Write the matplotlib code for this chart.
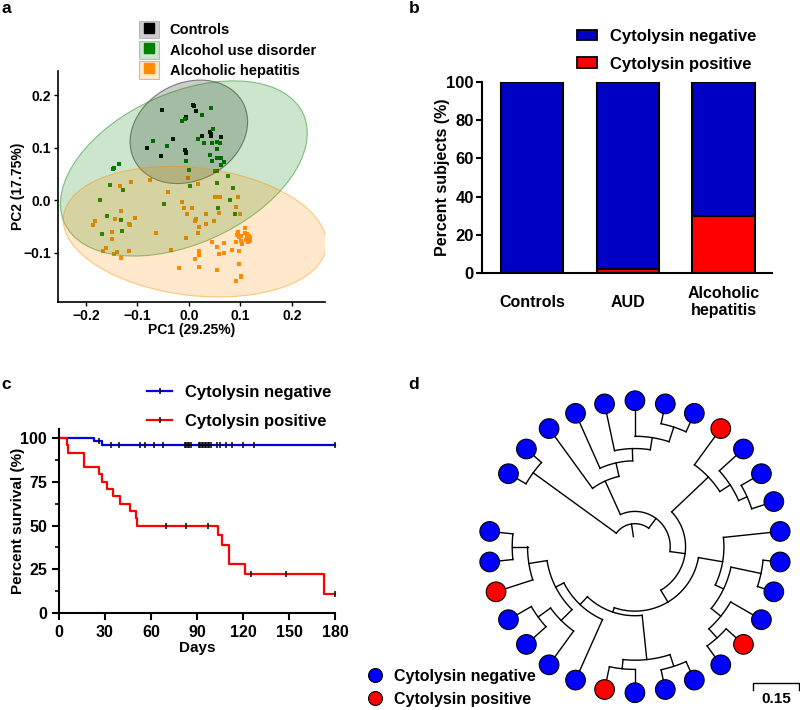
import numpy as np
import matplotlib
matplotlib.use("Agg")
import matplotlib.pyplot as plt
from matplotlib.patches import Ellipse, Patch
from matplotlib.lines import Line2D
from matplotlib.colors import to_rgba

plt.rcParams['font.family'] = ['Liberation Sans', 'DejaVu Sans']
plt.rcParams['font.weight'] = 'bold'
plt.rcParams['axes.labelweight'] = 'bold'

# ---------------- data ----------------
# a: PCA scores
ctrl_pc1 = [-0.052, 0.008, 0.010, 0.014, -0.005, -0.006, -0.031, -0.081, -0.054,
            -0.008, -0.006, -0.006, 0.026, 0.041, 0.042, 0.043, 0.063]
ctrl_pc2 = [0.171, 0.182, 0.179, 0.170, 0.158, 0.156, 0.116, 0.099, 0.084,
            0.095, 0.091, 0.090, 0.123, 0.130, 0.126, 0.122, 0.121]
aud_pc1 = [0.042, 0.026, -0.014, -0.007, -0.070, -0.043, 0.017, 0.030, 0.047, 0.045,
           0.054, 0.061, 0.055, 0.040, 0.044, 0.054, 0.062, 0.069, 0.063, -0.006,
           0.000, 0.050, 0.054, 0.076, 0.055, 0.085, 0.079, 0.057, 0.089, 0.003,
           -0.048, -0.147, -0.146, -0.136, -0.154, -0.128, -0.172, -0.158, -0.132,
           -0.130, -0.168]
aud_pc2 = [0.176, 0.162, 0.150, 0.154, 0.112, 0.103, 0.117, 0.109, 0.135, 0.109,
           0.110, 0.109, 0.098, 0.086, 0.075, 0.081, 0.080, 0.072, 0.067, 0.074,
           0.057, 0.055, 0.055, 0.046, 0.032, 0.024, 0.001, -0.015, -0.026, 0.027,
           -0.008, 0.059, 0.062, 0.068, 0.029, 0.020, 0.000, -0.030, -0.037,
           -0.058, -0.065]
ah_pc1 = [-0.075, -0.113, -0.133, -0.001, 0.017, -0.041, -0.013, -0.010, 0.006, -0.003,
          0.014, 0.011, 0.034, 0.048, 0.034, 0.058, 0.055, 0.051, 0.060, 0.095,
          0.091, 0.099, 0.019, 0.017, -0.006, -0.063, -0.104, -0.116, -0.114, -0.144,
          -0.149, -0.149, -0.182, -0.186, -0.131, -0.166, -0.161, -0.146, -0.139, -0.131,
          -0.117, -0.035, -0.019, 0.012, 0.020, 0.019, 0.019, 0.044, 0.055, 0.069,
          0.059, 0.055, 0.068, 0.083, 0.097, 0.097, 0.091, 0.096, 0.094, 0.097,
          0.101, 0.102, 0.103, 0.108, 0.109, 0.113, 0.115, 0.113, 0.117, 0.119,
          0.119, 0.114, 0.110, 0.092, 0.101, 0.102]
ah_pc2 = [0.039, 0.034, 0.027, 0.043, 0.030, 0.015, -0.003, -0.015, -0.015, -0.027,
          -0.036, -0.039, -0.027, -0.040, -0.046, -0.025, 0.006, 0.006, 0.006, 0.006,
          -0.013, -0.026, -0.051, -0.062, -0.072, -0.063, -0.034, -0.046, -0.048, -0.036,
          -0.061, -0.074, -0.039, -0.048, -0.020, -0.097, -0.092, -0.102, -0.099, -0.110,
          -0.097, -0.095, -0.130, -0.112, -0.105, -0.097, -0.128, -0.080, -0.090, -0.082,
          -0.103, -0.133, -0.101, -0.095, -0.097, -0.122, -0.080, -0.060, -0.067, -0.071,
          -0.069, -0.077, -0.083, -0.053, -0.062, -0.064, -0.070, -0.073, -0.069, -0.072,
          -0.077, -0.080, -0.075, -0.154, -0.144, -0.147]
pca_groups = ['Controls', 'Alcohol use disorder', 'Alcoholic hepatitis']

# b: cytolysin positive share per group (%)
b_groups = ['Controls', 'AUD', 'Alcoholic\nhepatitis']
b_positive = [0, 2, 30]
b_negative = [100 - p for p in b_positive]

# c: survival (days, 1 = death, 0 = censored)
neg_days = [23, 28, 26, 34, 39, 53, 56, 62, 68, 82, 83, 84, 84, 85, 86,
            91, 92, 93, 93, 94, 95, 95, 96, 97, 98, 98, 99,
            103, 105, 109, 113, 120, 127] + [180] * 20
neg_event = [1, 1] + [0] * 51
pos_days = [5, 6, 16, 16, 26, 28, 31, 35, 40, 46, 50, 51, 104, 106, 111, 111, 121, 173,
            70, 83, 97, 125, 148, 180]
pos_event = [1] * 18 + [0] * 6

# d: tree (newick, branch lengths) and cytolysin-positive isolates
newick = ("((s1:0.066,s2:0.066):0.335,((s3:0.241,(s4:0.196,(s5:0.156,(s6:0.116,"
          "(s7:0.066,s8:0.066):0.05):0.04):0.04):0.045):0.12,((s9:0.146,(s10:0.106,"
          "(s11:0.076,s12:0.076):0.03):0.04):0.165,((s13:0.186,((s14:0.056,s15:0.056):0.10,"
          "(s16:0.116,(s17:0.076,s18:0.076):0.04):0.04):0.03):0.08,(((s19:0.066,s20:0.066):0.04,"
          "(s21:0.076,s22:0.076):0.03):0.145,(s23:0.216,((s24:0.136,(s25:0.086,s26:0.086):0.05):0.05,"
          "(s27:0.126,(s28:0.076,s29:0.076):0.05):0.06):0.03):0.035):0.015):0.045):0.05):0.04):0.042;")
positive_tips = ['s9', 's17', 's22', 's27']
scale_len = 0.15

# ---------------- styles ----------------
BLUE_BAR = '#0000C4'
BLUE = '#0000E6'
RED = '#FF0000'
col_a = ['#000000', '#008000', '#FF8C00']

fig = plt.figure(figsize=(8, 7.1), dpi=100)


def fx(px):
    return px / 800


def fy(px):
    return 1 - px / 710


def style_spines(ax, lw):
    for s in ['top', 'right']:
        ax.spines[s].set_visible(False)
    for s in ['left', 'bottom']:
        ax.spines[s].set_linewidth(lw)


# ---------------- a ----------------
ax = fig.add_axes([fx(58), fy(302), fx(267), 231 / 710])
pts = [(ctrl_pc1, ctrl_pc2), (aud_pc1, aud_pc2), (ah_pc1, ah_pc2)]
for (xs, ys), c in zip(pts, col_a):
    ax.scatter(xs, ys, marker='s', s=9, color=c, linewidths=0, zorder=2)


def conf_ellipse(ax, xs, ys, color, alpha, level=0.97):
    X = np.column_stack([xs, ys])
    m = len(X) - 1
    vals, vecs = np.linalg.eigh(np.cov(X.T))
    fq = (m / 2) * ((1 - level) ** (-2 / m) - 1)   # F(2, m) quantile
    rad = np.sqrt(2 * fq)
    ang = np.degrees(np.arctan2(vecs[1, 1], vecs[0, 1]))
    e = Ellipse(X.mean(axis=0), 2 * rad * np.sqrt(vals[1]), 2 * rad * np.sqrt(vals[0]),
                angle=ang, facecolor=to_rgba(color, alpha), edgecolor=to_rgba(color, 0.45),
                lw=0.8, zorder=3)
    ax.add_patch(e)


for (xs, ys), c in zip(pts, col_a):
    conf_ellipse(ax, xs, ys, c, 0.2)

ax.set_xlim(-0.254, 0.264)
ax.set_ylim(-0.194, 0.246)
ax.set_xticks([-0.2, -0.1, 0.0, 0.1, 0.2])
ax.set_xticklabels(['\u22120.2', '\u22120.1', '0.0', '0.1', '0.2'])
ax.set_yticks([-0.1, 0.0, 0.1, 0.2])
ax.set_yticklabels(['\u22120.1', '0.0', '0.1', '0.2'])
ax.tick_params(labelsize=10, length=3, width=1, pad=2)
ax.set_xlabel('PC1 (29.25%)', fontsize=10, labelpad=0)
ax.set_ylabel('PC2 (17.75%)', fontsize=10)
ax.yaxis.set_label_coords(-0.125, 0.5)
style_spines(ax, 1.2)

h_a = [(Patch(facecolor=to_rgba(c, 0.2), edgecolor=to_rgba('#999999', 0.6), lw=0.8),
        Line2D([], [], ls='', marker='s', ms=6.5, color=c)) for c in col_a]
fig.legend(h_a, pca_groups, loc='upper left', bbox_to_anchor=(fx(139), fy(21)),
           frameon=False, fontsize=10.5, handlelength=1.4, handleheight=1.45,
           labelspacing=0.2, handletextpad=0.7, borderpad=0, borderaxespad=0)

# ---------------- b ----------------
ax = fig.add_axes([fx(482), fy(273), fx(290), 191 / 710])
xb = np.arange(len(b_groups))
ax.bar(xb, b_positive, width=0.65, color=RED, edgecolor='black', lw=1.5, zorder=2)
ax.bar(xb, b_negative, bottom=b_positive, width=0.65, color=BLUE_BAR, edgecolor='black',
       lw=1.5, zorder=2)
ax.set_xlim(-0.52, 2.505)
ax.set_ylim(0, 100)
ax.set_yticks(range(0, 101, 20))
ax.set_xticks(xb)
ax.set_xticklabels(b_groups, va='center')
ax.tick_params(axis='y', labelsize=12, length=4, width=1.5, pad=2)
ax.tick_params(axis='x', labelsize=11.5, length=0, pad=21)
ax.set_ylabel('Percent subjects (%)', fontsize=11.5)
ax.yaxis.set_label_coords(-0.112, 0.5)
style_spines(ax, 1.5)
h_b = [Patch(facecolor=BLUE_BAR, edgecolor='black', lw=1.3),
       Patch(facecolor=RED, edgecolor='black', lw=1.3)]
fig.legend(h_b, ['Cytolysin negative', 'Cytolysin positive'], loc='upper left',
           bbox_to_anchor=(fx(577), fy(29)), frameon=False, fontsize=12,
           handlelength=1.2, handleheight=0.6, labelspacing=0.75, handletextpad=0.8,
           borderpad=0, borderaxespad=0)

# ---------------- c ----------------
ax = fig.add_axes([fx(59), fy(613), fx(276), 183.75 / 710])


def kaplan_meier(days, events):
    days, events = np.asarray(days), np.asarray(events)
    n = len(days)
    s = 100.0
    xs, ys, cx, cy = [0], [100.0], [], []
    for t in np.unique(days):
        d = np.sum((days == t) & (events == 1))
        c = np.sum((days == t) & (events == 0))
        if d:
            s *= 1 - d / n
            xs.append(t)
            ys.append(s)
        if c:
            cx.append(t)
            cy.append(s)
        n -= d + c
    xs.append(days.max())
    ys.append(s)
    return xs, ys, cx, cy


for days, ev, c in [(neg_days, neg_event, BLUE), (pos_days, pos_event, RED)]:
    xs, ys, cx, cy = kaplan_meier(days, ev)
    ax.step(xs, ys, where='post', color=c, lw=1.6, zorder=2, clip_on=False)
    ax.plot(cx, cy, ls='', marker='|', ms=5, mew=1.1, color='black', zorder=3, clip_on=False)

ax.set_xlim(0, 180)
ax.set_ylim(0, 105)
ax.set_xticks(range(0, 181, 30))
ax.set_yticks(range(0, 101, 25))
ax.set_yticks(np.arange(12.5, 100, 25), minor=True)
ax.tick_params(labelsize=11.5, length=5, width=1.5)
ax.tick_params(which='minor', length=3, width=1.2)
ax.set_xlabel('Days', fontsize=11, labelpad=1)
ax.set_ylabel('Percent survival (%)', fontsize=11)
ax.yaxis.set_label_coords(-0.123, 0.5)
style_spines(ax, 1.5)
h_c = [Line2D([], [], color=c, lw=1.6, marker='|', ms=5, mew=1.1, mec='black')
       for c in [BLUE, RED]]
fig.legend(h_c, ['Cytolysin negative', 'Cytolysin positive'], loc='upper left',
           bbox_to_anchor=(fx(147), fy(385)), frameon=False, fontsize=12, numpoints=1,
           handlelength=1.5, labelspacing=0.85, handletextpad=0.8, borderpad=0,
           borderaxespad=0)

# ---------------- d ----------------
ax = fig.add_axes([fx(480), 0, fx(320), 340 / 710])
ax.set_xlim(-0.505, 0.538)
ax.set_ylim(-0.5324, 0.5761)
ax.axis('off')


def parse_newick(s):
    pos = 0

    def node():
        nonlocal pos
        kids = []
        if s[pos] == '(':
            pos += 1
            kids.append(node())
            while s[pos] == ',':
                pos += 1
                kids.append(node())
            pos += 1
        st = pos
        while s[pos] not in ':,();':
            pos += 1
        name = s[st:pos]
        blen = 0.0
        if s[pos] == ':':
            pos += 1
            st = pos
            while s[pos] not in ',();':
                pos += 1
            blen = float(s[st:pos])
        return {'name': name, 'len': blen, 'kids': kids}
    return node()


tree = parse_newick(newick)
tips = []
start_ang, step_ang = 150.0, 12.0


def place(nd, depth):
    nd['r0'] = depth
    nd['r'] = depth + nd['len']
    if not nd['kids']:
        nd['ang'] = np.radians(start_ang - step_ang * len(tips))
        tips.append(nd)
    else:
        for k in nd['kids']:
            place(k, nd['r'])
        nd['ang'] = np.mean([k['ang'] for k in nd['kids']])


place(tree, 0.033)


def draw(nd):
    a = nd['ang']
    ax.plot([nd['r0'] * np.cos(a), nd['r'] * np.cos(a)],
            [nd['r0'] * np.sin(a), nd['r'] * np.sin(a)], color='black', lw=1.0,
            solid_capstyle='projecting')
    if nd['kids']:
        angs = [k['ang'] for k in nd['kids']]
        th = np.linspace(min(angs), max(angs), 80)
        ax.plot(nd['r'] * np.cos(th), nd['r'] * np.sin(th), color='black', lw=1.0)
        for k in nd['kids']:
            draw(k)


draw(tree)
tx = [t['r'] * np.cos(t['ang']) for t in tips]
ty = [t['r'] * np.sin(t['ang']) for t in tips]
tc = [RED if t['name'] in positive_tips else '#0000FF' for t in tips]
ax.scatter(tx, ty, s=200, c=tc, edgecolors='black', linewidths=0.8, zorder=3, clip_on=False)

# scale bar
sx, sy = 0.385, -0.444
ax.plot([sx, sx, sx + scale_len, sx + scale_len], [sy - 0.022, sy, sy, sy - 0.022],
        color='black', lw=1.0, clip_on=False)
ax.text(sx + scale_len / 2, sy - 0.03, f'{scale_len:.2f}', ha='center', va='top',
        fontsize=11)

h_d = [Line2D([], [], ls='', marker='o', ms=10, mfc=c, mec='black', mew=0.8)
       for c in ['#0000FF', RED]]
fig.legend(h_d, ['Cytolysin negative', 'Cytolysin positive'], loc='upper left',
           bbox_to_anchor=(fx(367), fy(669)), frameon=False, fontsize=11.5, numpoints=1,
           handlelength=1.0, labelspacing=0.5, handletextpad=0.7, borderpad=0,
           borderaxespad=0)

# panel letters
for lab, x, y in [('a', 1, 13), ('b', 409, 13), ('c', 1, 389), ('d', 408, 389)]:
    fig.text(fx(x), fy(y), lab, fontsize=12.5, fontweight='bold', va='baseline')

fig.savefig('out.png', dpi=100)
